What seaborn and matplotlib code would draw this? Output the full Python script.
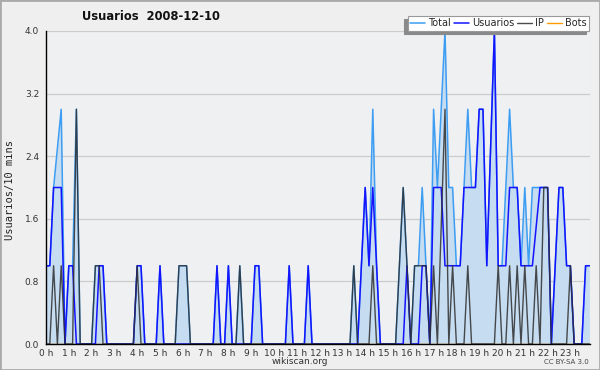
import matplotlib

matplotlib.use("Agg")
import matplotlib.pyplot as plt
import numpy as np
import pandas as pd
import seaborn as sns
from matplotlib.patches import Rectangle
from matplotlib.ticker import FixedLocator, MultipleLocator

TITLE = "Usuarios  2008-12-10"
HOUR_LABELS = [f"{h} h" for h in range(24)]
Y_TICKS = [0.0, 0.8, 1.6, 2.4, 3.2, 4.0]

# one row per hour, six 10-minute slots per row
TOTAL = [
    1, 1, 2, 2.5, 3, 0,
    1, 1, 3, 0, 0, 0,
    0, 1, 1, 1, 0, 0,
    0, 0, 0, 0, 0, 0,
    1, 1, 0, 0, 0, 0,
    1, 0, 0, 0, 0, 1,
    1, 1, 0, 0, 0, 0,
    0, 0, 0, 1, 0, 0,
    1, 0, 0, 1, 0, 0,
    0, 1, 1, 0, 0, 0,
    0, 0, 0, 0, 1, 0,
    0, 0, 0, 1, 0, 0,
    0, 0, 0, 0, 0, 0,
    0, 0, 0, 1, 0, 1,
    2, 1, 3, 1, 0, 0,
    0, 0, 0, 1, 2, 1,
    0, 1, 1, 2, 1, 0,
    3, 2, 3, 4, 2, 2,
    1, 1, 2, 3, 2, 2,
    3, 3, 1, 2.5, 4, 1,
    1, 2, 3, 2, 2, 1,
    2, 1, 2, 2, 2, 2,
    2, 0, 1, 2, 2, 1,
    1, 0, 0, 0, 1, 1,
]

USUARIOS = [
    1, 1, 2, 2, 2, 0,
    1, 1, 0, 0, 0, 0,
    0, 0, 1, 1, 0, 0,
    0, 0, 0, 0, 0, 0,
    1, 1, 0, 0, 0, 0,
    1, 0, 0, 0, 0, 0,
    0, 0, 0, 0, 0, 0,
    0, 0, 0, 1, 0, 0,
    1, 0, 0, 0, 0, 0,
    0, 1, 1, 0, 0, 0,
    0, 0, 0, 0, 1, 0,
    0, 0, 0, 1, 0, 0,
    0, 0, 0, 0, 0, 0,
    0, 0, 0, 0, 0, 1,
    2, 1, 2, 1, 0, 0,
    0, 0, 0, 0, 0, 1,
    0, 0, 0, 1, 1, 0,
    2, 2, 2, 1, 1, 1,
    1, 1, 2, 2, 2, 2,
    3, 3, 1, 2.5, 4, 1,
    1, 1, 2, 2, 2, 1,
    1, 1, 1, 1.5, 2, 2,
    2, 0, 1, 2, 2, 1,
    1, 0, 0, 0, 1, 1,
]

IP = [
    0, 0, 1, 0, 1, 0,
    0, 0, 3, 0, 0, 0,
    0, 1, 1, 0, 0, 0,
    0, 0, 0, 0, 0, 0,
    1, 0, 0, 0, 0, 0,
    0, 0, 0, 0, 0, 1,
    1, 1, 0, 0, 0, 0,
    0, 0, 0, 0, 0, 0,
    0, 0, 0, 1, 0, 0,
    0, 0, 0, 0, 0, 0,
    0, 0, 0, 0, 0, 0,
    0, 0, 0, 0, 0, 0,
    0, 0, 0, 0, 0, 0,
    0, 0, 0, 1, 0, 0,
    0, 0, 1, 0, 0, 0,
    0, 0, 0, 1, 2, 1,
    0, 1, 1, 1, 1, 0,
    1, 0, 1.5, 3, 0, 1,
    0, 0, 0, 1, 0, 0,
    0, 0, 0, 0, 0, 1,
    0, 0, 1, 0, 1, 0,
    1, 0, 0, 1, 0, 2,
    2, 0, 0, 0, 0, 0,
    1, 0, 0, 0, 0, 0,
]

BOTS = [
    0, 0, 0, 0, 0, 0,
    0, 0, 0, 0, 0, 0,
    0, 0, 0, 0, 0, 0,
    0, 0, 0, 0, 0, 0,
    0, 0, 0, 0, 0, 0,
    0, 0, 0, 0, 0, 0,
    0, 0, 0, 0, 0, 0,
    0, 0, 0, 0, 0, 0,
    0, 0, 0, 0, 0, 0,
    0, 0, 0, 0, 0, 0,
    0, 0, 0, 0, 0, 0,
    0, 0, 0, 0, 0, 0,
    0, 0, 0, 0, 0, 0,
    0, 0, 0, 0, 0, 0,
    0, 0, 0, 0, 0, 0,
    0, 0, 0, 0, 0, 0,
    0, 0, 0, 0, 0, 0,
    0, 0, 0, 0, 0, 0,
    0, 0, 0, 0, 0, 0,
    0, 0, 0, 0, 0, 0,
    0, 0, 0, 0, 0, 0,
    0, 0, 0, 0, 0, 0,
    0, 0, 0, 0, 0, 0,
    0, 0, 0, 0, 0, 0,
]

FIG_BG = "#efefef"
AX_BG = "#eef0f2"
FILL = "#c6dcf0"
C_TOTAL = "#3d9df2"
C_USUARIOS = "#1414ff"
C_IP = "#2e2e2e"
C_BOTS = "#ff9900"


def build_frame() -> pd.DataFrame:
    slots = np.arange(len(TOTAL))
    return pd.DataFrame(
        {
            "hora": slots / 6,
            "Total": TOTAL,
            "Usuarios": USUARIOS,
            "IP": IP,
            "Bots": BOTS,
        }
    )


def main() -> None:
    df = build_frame()

    sns.set_style("white")
    plt.rcParams["font.family"] = ["DejaVu Sans"]

    fig, ax = plt.subplots(figsize=(6, 3.7), dpi=100)
    fig.patch.set_facecolor(FIG_BG)
    fig.subplots_adjust(left=46 / 600, right=590 / 600, bottom=26 / 370, top=339 / 370)
    ax.set_facecolor(AX_BG)

    ax.fill_between(df["hora"], df["Total"], color=FILL, lw=0, zorder=1)
    sns.lineplot(data=df, x="hora", y="Total", color=C_TOTAL, lw=1.1, label="Total", ax=ax, zorder=3)
    sns.lineplot(data=df, x="hora", y="Usuarios", color=C_USUARIOS, lw=1.1, label="Usuarios", ax=ax, zorder=4)
    sns.lineplot(data=df, x="hora", y="IP", color=C_IP, lw=1.0, alpha=0.85, label="IP", ax=ax, zorder=5)
    sns.lineplot(data=df, x="hora", y="Bots", color=C_BOTS, lw=1.0, label="Bots", ax=ax, zorder=1.5)

    ax.set_xlim(0, 23.86)
    ax.set_ylim(0, 4.0)
    ax.set_xlabel("")
    ax.set_ylabel("")

    ax.xaxis.set_major_locator(FixedLocator(range(24)))
    ax.set_xticklabels(HOUR_LABELS)
    ax.xaxis.set_minor_locator(MultipleLocator(1 / 6))
    ax.yaxis.set_major_locator(FixedLocator(Y_TICKS))
    ax.set_yticklabels([f"{v:.1f}" for v in Y_TICKS])
    ax.yaxis.set_minor_locator(MultipleLocator(0.2))

    ax.tick_params(axis="both", which="major", direction="out", length=4, width=0.9,
                   colors="black", labelsize=6.5, labelcolor="#333333", pad=1)
    ax.tick_params(axis="both", which="minor", direction="out", length=3, width=0.8, colors="black")
    ax.tick_params(axis="x", which="major", length=3.5, pad=0, labelsize=6.5)

    ax.yaxis.grid(True, color="#cccccc", lw=0.9)
    ax.xaxis.grid(False)
    ax.set_axisbelow(True)

    for side in ["top", "right"]:
        ax.spines[side].set_visible(False)
    for side in ["left", "bottom"]:
        ax.spines[side].set_color("black")
        ax.spines[side].set_linewidth(1.0)
        ax.spines[side].set_zorder(6)

    leg = ax.legend(
        loc="upper right",
        bbox_to_anchor=(589 / 600, 1 - 16 / 370),
        bbox_transform=fig.transFigure,
        ncol=4,
        fontsize=7,
        frameon=True,
        fancybox=False,
        framealpha=1,
        shadow={"ox": -2.5, "oy": -2.5, "color": "#8a8a8a", "alpha": 1},
        borderpad=0.25,
        borderaxespad=0,
        handlelength=1.5,
        handletextpad=0.35,
        columnspacing=0.3,
    )
    leg.get_frame().set_edgecolor("#999999")
    leg.get_frame().set_facecolor("white")
    leg.get_frame().set_linewidth(0.8)

    fig.text(151 / 600, 1 - 17 / 370, TITLE, ha="center", va="center",
             fontsize=8.3, fontweight="bold", color="#111111")
    fig.text(10 / 600, 1 - 190 / 370, "Usuarios/10 mins", rotation=90, ha="center", va="center",
             fontsize=7.5, family="DejaVu Sans Mono", color="#222222")
    fig.text(0.5, 1 - 362 / 370, "wikiscan.org", ha="center", va="center", fontsize=6.5, color="#333333")
    fig.text(589 / 600, 1 - 362 / 370, "CC BY-SA 3.0", ha="right", va="center", fontsize=5, color="#444444")

    fig.patches.append(Rectangle((0, 0), 1, 1, transform=fig.transFigure, fill=False,
                                 edgecolor="#aaaaaa", lw=2))

    fig.savefig("out.png", dpi=100, facecolor=fig.get_facecolor())


if __name__ == "__main__":
    main()
